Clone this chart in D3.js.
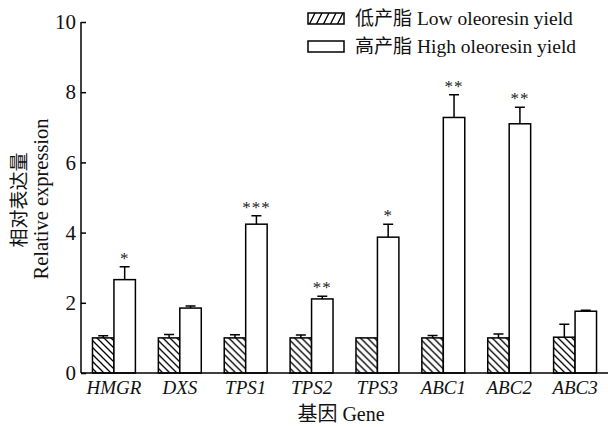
<!DOCTYPE html>
<html>
<head>
<meta charset="utf-8">
<script src="https://cdn.jsdelivr.net/npm/d3@7"></script>
<style>
  body { margin: 0; background: #fff; }
  svg { display: block; }
  text { font-family: "Liberation Serif", "Times New Roman", "Noto Sans CJK SC", serif; fill: #000; }
  .cjk { font-family: "Noto Sans CJK SC", sans-serif; }
</style>
</head>
<body>
<div id="chart"></div>
<script>
var w = 608;
var h = 427;

var genes = ["HMGR", "DXS", "TPS1", "TPS2", "TPS3", "ABC1", "ABC2", "ABC3"];
var lowVals = [1.0, 1.0, 1.0, 1.0, 1.0, 1.0, 1.0, 1.02];
var lowErr = [0.06, 0.1, 0.09, 0.08, 0.0, 0.07, 0.11, 0.37];
var highVals = [2.66, 1.85, 4.24, 2.11, 3.87, 7.28, 7.1, 1.76];
var highErr = [0.37, 0.06, 0.24, 0.08, 0.37, 0.65, 0.47, 0.03];
var sig = ["*", "", "***", "**", "*", "**", "**", ""];
var yTicks = [0, 2, 4, 6, 8, 10];

var series = ["low", "high"];
var plotLeft = 81, plotRight = 608, plotTop = 22, plotBottom = 373;

var svg = d3.select("#chart")
    .append("svg")
    .attr("width", w)
    .attr("height", h);

// hatch patterns
var defs = svg.append("defs");
defs.append("pattern")
    .attr("id", "hatch")
    .attr("patternUnits", "userSpaceOnUse")
    .attr("width", 7)
    .attr("height", 7)
    .append("path")
    .attr("d", "M0,0 L7,7 M-1,6 L1,8 M6,-1 L8,1")
    .attr("stroke", "#000")
    .attr("stroke-width", 1.3);
defs.append("pattern")
    .attr("id", "hatch2")
    .attr("patternUnits", "userSpaceOnUse")
    .attr("width", 7)
    .attr("height", 14)
    .append("path")
    .attr("d", "M0,14 L7,0 M-3.5,7 L0,0 M7,14 L10.5,7")
    .attr("stroke", "#000")
    .attr("stroke-width", 1.3);

// scales
var x = d3.scaleBand()
    .domain(genes)
    .range([plotLeft, plotRight]);
var xs = d3.scaleBand()
    .domain(series)
    .range([0, x.bandwidth()])
    .paddingOuter(0.535);
var y = d3.scaleLinear()
    .domain([0, 10])
    .range([plotBottom, plotTop]);

var rows = genes.map((g, i) => ({
    gene: g,
    vals: [
        { s: "low", v: lowVals[i], e: lowErr[i] },
        { s: "high", v: highVals[i], e: highErr[i] }
    ],
    sig: sig[i]
}));

var groups = svg.selectAll(".grp")
    .data(rows)
    .enter()
    .append("g")
    .attr("class", "grp")
    .attr("transform", (d) => "translate(" + x(d.gene) + ",0)");

// error bars (upward only)
groups.selectAll(".err")
    .data((d) => d.vals.filter((b) => b.e > 0))
    .enter()
    .append("path")
    .attr("class", "err")
    .attr("d", (b) => {
        var cx = xs(b.s) + xs.bandwidth() / 2;
        return "M" + cx + "," + y(b.v) + "V" + y(b.v + b.e) +
            "M" + (cx - 5) + "," + y(b.v + b.e) + "H" + (cx + 5);
    })
    .attr("fill", "none")
    .attr("stroke", "#000")
    .attr("stroke-width", 1.5);

// bars
groups.selectAll(".bar")
    .data((d) => d.vals)
    .enter()
    .append("rect")
    .attr("class", "bar")
    .attr("x", (b) => xs(b.s))
    .attr("y", (b) => y(b.v))
    .attr("width", xs.bandwidth())
    .attr("height", (b) => y(0) - y(b.v))
    .attr("fill", (b) => b.s == "low" ? "url(#hatch)" : "#fff")
    .attr("stroke", "#000")
    .attr("stroke-width", 1.5);

// significance stars
groups.append("text")
    .attr("x", xs("high") + xs.bandwidth() / 2)
    .attr("y", (d) => y(d.vals[1].v + d.vals[1].e) - 3)
    .attr("text-anchor", "middle")
    .style("font-size", "17px")
    .style("letter-spacing", "1px")
    .style("fill", "#222")
    .text((d) => d.sig);

// axes
var yAxis = d3.axisRight(y)
    .tickValues(yTicks)
    .tickSize(5)
    .tickFormat(d3.format("d"));
var gy = svg.append("g")
    .attr("transform", "translate(" + plotLeft + ",0)")
    .call(yAxis);
gy.select(".domain").attr("d", "M0," + plotTop + "V" + plotBottom).attr("stroke-width", 1.5);
gy.selectAll(".tick line").attr("stroke-width", 1.5);
gy.selectAll(".tick text")
    .attr("x", -5)
    .attr("text-anchor", "end")
    .style("font-size", "21px")
    .style("fill", "#111")
    .style("font-family", "Liberation Serif, serif");

var xAxis = d3.axisBottom(x).tickSize(0);
var gx = svg.append("g")
    .attr("transform", "translate(0," + plotBottom + ")")
    .call(xAxis);
gx.select(".domain").attr("d", "M" + plotLeft + ",0H" + plotRight).attr("stroke-width", 1.5);
gx.selectAll(".tick text")
    .attr("y", 8)
    .style("font-size", "19px")
    .style("font-style", "italic")
    .style("fill", "#111")
    .style("font-family", "Liberation Serif, serif");

// axis titles
svg.append("text")
    .attr("x", 341)
    .attr("y", 421)
    .attr("text-anchor", "middle")
    .style("font-size", "20px")
    .style("fill", "#111")
    .html('<tspan class="cjk">基因</tspan> Gene');

svg.append("text")
    .attr("class", "cjk")
    .attr("transform", "translate(26,200) rotate(-90)")
    .attr("text-anchor", "middle")
    .style("font-size", "19px")
    .style("fill", "#111")
    .text("相对表达量");
svg.append("text")
    .attr("transform", "translate(48,199) rotate(-90)")
    .attr("text-anchor", "middle")
    .style("font-size", "20.5px")
    .style("fill", "#111")
    .text("Relative expression");

// legend
var legendItems = [
    { fill: "url(#hatch2)", cn: "低产脂", en: "Low oleoresin yield" },
    { fill: "#fff", cn: "高产脂", en: "High oleoresin yield" }
];
var legend = svg.selectAll(".legend")
    .data(legendItems)
    .enter()
    .append("g")
    .attr("class", "legend")
    .attr("transform", (d, i) => "translate(308," + (13 + i * 28) + ")");
legend.append("rect")
    .attr("width", 36)
    .attr("height", 11)
    .attr("fill", (d) => d.fill)
    .attr("stroke", "#000")
    .attr("stroke-width", 1.5);
legend.append("text")
    .attr("x", 47)
    .attr("y", 12)
    .style("font-size", "19.5px")
    .style("fill", "#111")
    .html((d) => '<tspan class="cjk" style="font-size:19px">' + d.cn + '</tspan> ' + d.en);
</script>
</body>
</html>
